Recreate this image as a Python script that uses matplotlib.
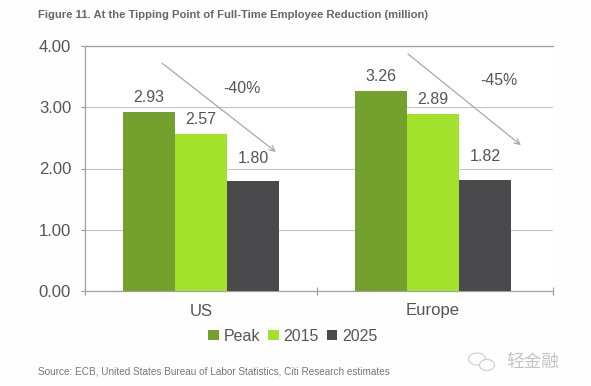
import matplotlib
matplotlib.use('Agg')
import matplotlib.pyplot as plt
from matplotlib.patches import Ellipse
import numpy as np

groups = ['US', 'Europe']
series = ['Peak', '2015', '2025']
peak = [2.93, 3.26]
y2015 = [2.57, 2.89]
y2025 = [1.80, 1.82]
colors = ['#74a12e', '#a2e22c', '#4a4a4c']
yticks = [0, 1, 2, 3, 4]
changes = ['-40%', '-45%']

W, H = 591, 386
plt.rcParams['font.family'] = ['Liberation Sans', 'Noto Sans CJK SC', 'DejaVu Sans']
fig = plt.figure(figsize=(W / 100, H / 100), dpi=100, facecolor='#fefefe')

# plot area in pixels
left, right, top, bottom = 85, 553, 46, 291
ax = fig.add_axes([left / W, 1 - bottom / H, (right - left) / W, (bottom - top) / H])
ax.set_facecolor('white')

x = np.arange(len(groups))
w = 0.224
offsets = [0.235, 0.235, 0.37]
for i, (vals, name) in enumerate(zip([peak, y2015, y2025], series)):
    pos = x + (i - 1) * w
    ax.bar(pos, vals, w, color=colors[i], label=name, zorder=3)
    for p, v in zip(pos, vals):
        ax.text(p, v + offsets[i], '%.2f' % v, ha='center', va='center', fontsize=11.5, color='#555555', zorder=5)

ax.set_xlim(-0.5, 1.517)
ax.set_ylim(0, 4)
ax.set_yticks(yticks)
ax.set_yticklabels(['%.2f' % t for t in yticks], fontsize=12, color='#555555')
ax.set_xticks([-0.5, 0.5, 1.517])
ax.set_xticklabels([])
ax.set_xticks(x, minor=True)
ax.set_xticklabels(groups, minor=True, fontsize=12, color='#555555')
ax.tick_params(axis='x', which='minor', length=0, pad=9)
ax.tick_params(axis='x', which='major', direction='inout', length=6, width=0.8, color='#999999')
ax.tick_params(axis='y', length=3, width=0.8, color='#999999', pad=7)
ax.grid(axis='y', color='#c4c4c4', lw=0.8, zorder=0)
for s in ['left', 'right', 'top', 'bottom']:
    ax.spines[s].set_color('#a0a0a0')
    ax.spines[s].set_linewidth(0.9)
ax.spines['right'].set_visible(False)

# trend arrows and percent labels
ax.annotate('', xy=(0.323, 2.27), xytext=(-0.168, 3.72),
            arrowprops=dict(arrowstyle='->', color='#a8a8a8', lw=0.9, shrinkA=0, shrinkB=0), zorder=4)
ax.annotate('', xy=(1.379, 2.38), xytext=(0.892, 3.87),
            arrowprops=dict(arrowstyle='->', color='#a8a8a8', lw=0.9, shrinkA=0, shrinkB=0), zorder=4)
ax.text(0.177, 3.30, changes[0], ha='center', va='center', fontsize=11.4, color='#555555', zorder=5)
ax.text(1.284, 3.43, changes[1], ha='center', va='center', fontsize=11.4, color='#555555', zorder=5)

leg = ax.legend(loc='center', bbox_to_anchor=(0.444, -0.184), ncol=3, frameon=False, fontsize=11.5,
                handlelength=0.65, handleheight=0.65, handletextpad=0.3, columnspacing=0.5)
for t in leg.get_texts():
    t.set_color('#555555')

fig.text(38 / W, 1 - 15 / H, 'Figure 11. At the Tipping Point of Full-Time Employee Reduction (million)',
         fontsize=8.15, fontweight='bold', color='#666666', va='center', ha='left')
fig.text(38 / W, 1 - 372 / H, 'Source: ECB, United States Bureau of Labor Statistics, Citi Research estimates',
         fontsize=7.2, color='#777777', va='center', ha='left')

# watermark
fig.text(506 / W, 1 - 362 / H, '轻金融', fontsize=12.7, color='#c4c4c4', va='center', ha='left')
fig.add_artist(Ellipse((477 / W, 1 - 359 / H), 17 / W, 12 / H, fill=False, ec='#cccccc', lw=0.8,
                       transform=fig.transFigure))
fig.add_artist(Ellipse((487 / W, 1 - 365 / H), 15 / W, 11 / H, fc='#fefefe', ec='#cccccc', lw=0.8,
                       transform=fig.transFigure))

fig.savefig('out.png', dpi=100, facecolor=fig.get_facecolor())
